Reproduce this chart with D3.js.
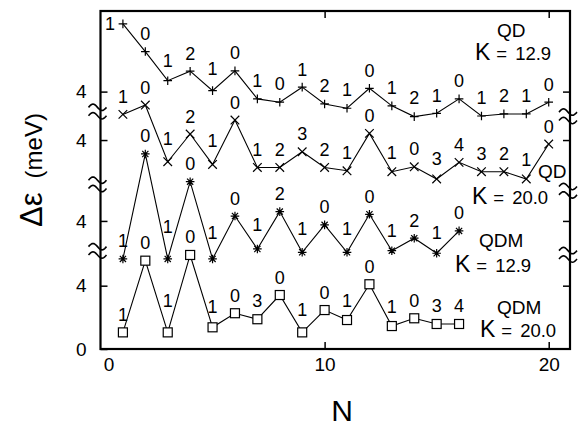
<!DOCTYPE html>
<html><head><meta charset="utf-8">
<script src="https://cdn.jsdelivr.net/npm/d3@7"></script>
<style>
body{margin:0;background:#fff;}
svg{display:block;font-family:"Liberation Sans",Arial,sans-serif;}
</style></head>
<body>
<svg id="c" width="580" height="428"></svg>
<script>
// ---- data ----
const N = d3.range(1, 21);
const qdK129 = [8.28,6.53,4.69,5.29,4.06,5.31,3.54,3.33,4.28,3.22,2.95,4.21,3.10,2.42,2.63,3.54,2.46,2.59,2.59,3.33];
const qdK129Labels = ["1","0","1","2","1","0","1","0","1","2","1","0","1","2","1","0","1","2","1","0"];
const qdK200 = [5.62,6.21,2.63,4.38,2.46,5.26,2.27,2.27,3.26,2.27,2.06,4.42,2.00,2.31,1.54,2.59,2.00,2.00,1.54,3.75];
const qdK200Labels = ["1","0","1","2","1","0","1","2","3","2","1","0","1","0","3","4","3","2","1","0"];
const qdmK129 = [1.60,8.23,1.60,6.48,1.60,4.31,2.23,4.59,2.02,3.75,2.02,4.42,2.12,2.91,1.96,3.37];
const qdmK129Labels = ["1","0","1","0","1","0","1","2","1","0","1","0","1","2","1","0"];
const qdmK200 = [1.05,5.58,1.05,5.94,1.37,2.26,1.88,3.41,1.05,2.46,1.83,4.09,1.45,1.94,1.58,1.58];
const qdmK200Labels = ["1","0","1","0","1","0","3","0","1","0","1","0","1","0","3","4"];
const seriesNames = ["QD","QD","QDM","QDM"];
const kappaValues = ["12.9","20.0","12.9","20.0"];
const panelOffsets = [12.26, 9.20, 4.09, 0];   // vertical shift of each curve (meV)
const yTickLabels = ["0","4","4","4","4"];
const xTicks = [0, 10, 20];
const leftBreaks = [6.2, 10.4, 15.0];
const rightBreaks = [5.95, 10.0, 14.7];

const series = [
  {vals: qdK129, labels: qdK129Labels, marker: "plus"},
  {vals: qdK200, labels: qdK200Labels, marker: "cross"},
  {vals: qdmK129, labels: qdmK129Labels, marker: "star"},
  {vals: qdmK200, labels: qdmK200Labels, marker: "square"}
];

// ---- layout ----
const L = 100.5, R = 570, T = 11, B = 349;
const x = d3.scaleLinear().domain([0, 20.95]).range([L, R]);
const y = d3.scaleLinear().domain([0, (B - T) / 15.83]).range([B, T]);
const svg = d3.select("#c");

const yTickVals = [0, 4 + panelOffsets[3], 4 + panelOffsets[2], 4 + panelOffsets[1], 4 + panelOffsets[0]];

const yAxis = d3.axisLeft(y).tickValues(yTickVals).tickSize(-7).tickPadding(14)
  .tickFormat((d, i) => yTickLabels[i]);
const gy = svg.append("g").attr("transform", `translate(${L},0)`).call(yAxis);
gy.select(".domain").remove();
gy.selectAll("text").attr("font-size", 19).attr("fill", "#000").attr("font-family", "Liberation Sans, Arial, sans-serif");
gy.selectAll("line").attr("stroke", "#000").attr("stroke-width", 1.5);

const yAxisR = d3.axisRight(y).tickValues(yTickVals.slice(1)).tickSize(-7).tickFormat("");
const gyr = svg.append("g").attr("transform", `translate(${R},0)`).call(yAxisR);
gyr.select(".domain").remove();
gyr.selectAll("line").attr("stroke", "#000").attr("stroke-width", 1.5);

const xAxis = d3.axisBottom(x).tickValues(xTicks).tickSize(-7).tickPadding(9).tickFormat(d3.format("d"));
const gx = svg.append("g").attr("transform", `translate(0,${B})`).call(xAxis);
gx.select(".domain").remove();
gx.selectAll("text").attr("font-size", 19).attr("fill", "#000").attr("font-family", "Liberation Sans, Arial, sans-serif");
gx.selectAll(".tick").filter(d => d === 0).select("text").attr("dx", 8);
gx.selectAll(".tick").filter(d => d === 0).select("line").remove();
gx.selectAll("line").attr("stroke", "#000").attr("stroke-width", 1.5);

const xAxisT = d3.axisTop(x).tickValues(xTicks.slice(1)).tickSize(-7).tickFormat("");
const gxt = svg.append("g").attr("transform", `translate(0,${T})`).call(xAxisT);
gxt.select(".domain").remove();
gxt.selectAll("line").attr("stroke", "#000").attr("stroke-width", 1.5);

// frame
svg.append("rect").attr("x", L).attr("y", T).attr("width", R - L).attr("height", B - T)
  .attr("fill", "none").attr("stroke", "#000").attr("stroke-width", 2.2);

// break marks
function tilde(cx, cy, w) {
  const pts = d3.range(0, 1.001, 0.05).map(t => [cx - w / 2 + t * w, cy - 3.2 * Math.sin(2 * Math.PI * t)]);
  return d3.line()(pts);
}
function drawBreak(cx, cy) {
  const g = svg.append("g");
  [-4.2, 4.2].forEach(dy => {
    g.append("path").attr("d", tilde(cx, cy + dy, 18)).attr("fill", "none")
      .attr("stroke", "#000").attr("stroke-width", 1.6);
  });
}
leftBreaks.forEach(v => drawBreak(L - 3, y(v)));
rightBreaks.forEach(v => drawBreak(R - 2, y(v)));

// series
const markerPath = {
  plus: s => `M${-s},0H${s}M0,${-s}V${s}`,
  cross: s => `M${-s},${-s}L${s},${s}M${-s},${s}L${s},${-s}`,
  star: s => `M${-s},0H${s}M0,${-s}V${s}M${-s*0.72},${-s*0.72}L${s*0.72},${s*0.72}M${-s*0.72},${s*0.72}L${s*0.72},${-s*0.72}`
};

series.forEach((s, si) => {
  const off = panelOffsets[si];
  const pts = s.vals.map((v, i) => ({n: N[i], v: v + off, lab: s.labels[i]}));
  const g = svg.append("g");
  g.append("path").datum(pts)
    .attr("d", d3.line().x(d => x(d.n)).y(d => y(d.v)))
    .attr("fill", "none").attr("stroke", "#000").attr("stroke-width", 1.1);
  pts.forEach((d, i) => {
    const px = x(d.n), py = y(d.v);
    if (s.marker === "square") {
      g.append("rect").attr("x", px - 4.5).attr("y", py - 4.5).attr("width", 9).attr("height", 9)
        .attr("fill", "#fff").attr("stroke", "#000").attr("stroke-width", 1.2);
    } else {
      g.append("path").attr("transform", `translate(${px},${py})`)
        .attr("d", markerPath[s.marker](4.3)).attr("stroke", "#000").attr("stroke-width", 1.2).attr("fill", "none");
    }
    let dy = 18;
    if (i > 0 && i < pts.length - 1) {
      const riseUp = py - Math.max(y(pts[i - 1].v), y(pts[i + 1].v));
      if (riseUp > 0) dy += Math.min(14, riseUp / 5);
    }
    let lx = px, ly = py - dy;
    if (ly < T + 8) { lx = px - 13; ly = py; }
    g.append("text").attr("x", lx).attr("y", ly + 6.5).attr("text-anchor", "middle")
      .attr("font-size", 18).text(d.lab);
  });
});

// legends
const legendPos = [
  {nx: 497, ny: 37, kx: 475, ky: 60},
  {nx: 538, ny: 178, kx: 472, ky: 204},
  {nx: 479, ny: 247, kx: 455, ky: 272},
  {nx: 497, ny: 313.5, kx: 480, ky: 337}
];
legendPos.forEach((p, i) => {
  svg.append("text").attr("x", p.nx).attr("y", p.ny).attr("font-size", 19).text(seriesNames[i]);
  const t = svg.append("text").attr("x", p.kx).attr("y", p.ky).attr("font-size", 18.5);
  t.append("tspan").attr("font-size", 23).text("K");
  t.append("tspan").attr("dx", 6).text("=");
  t.append("tspan").attr("dx", 8).text(kappaValues[i]);
});

// axis titles
const yt = svg.append("text").attr("transform", "translate(42,170) rotate(-90)").attr("text-anchor", "middle");
yt.append("tspan").attr("font-size", 31).text("Δε");
yt.append("tspan").attr("font-size", 24).attr("dx", 14).text("(meV)");
svg.append("text").attr("x", 342).attr("y", 421).attr("text-anchor", "middle").attr("font-size", 30).text("N");
</script>
</body></html>
